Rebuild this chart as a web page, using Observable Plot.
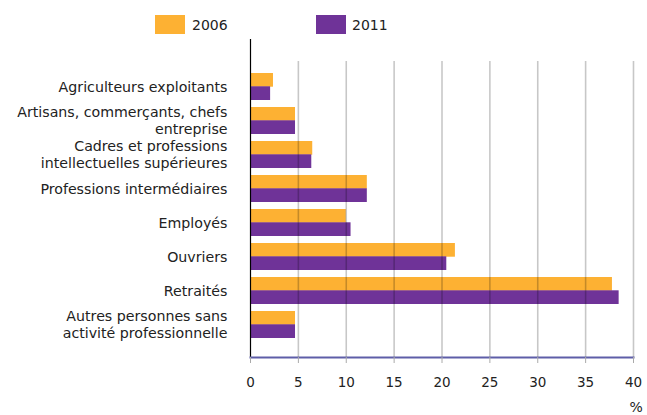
<!DOCTYPE html>
<html>
<head>
<meta charset="utf-8">
<script src="https://cdn.jsdelivr.net/npm/d3@7"></script>
<script src="https://cdn.jsdelivr.net/npm/@observablehq/plot@0.6"></script>
<style>
  body { margin: 0; background: #fff; font-family: "DejaVu Sans", Verdana, sans-serif; }
  #wrap { position: relative; width: 647px; height: 415px; overflow: hidden; }
  #legend { position: relative; height: 39px; width: 647px; font-size: 14px; color: #222; }
  .sw { position: absolute; top: 15px; width: 30px; height: 19px; }
  .lt { position: absolute; top: 16px; line-height: 18px; }
  svg { display: block; }
</style>
</head>
<body>
<div id="wrap">
  <div id="legend"></div>
  <div id="chart"></div>
</div>
<script>
const categories = [
  "Agriculteurs exploitants",
  "Artisans, commerçants, chefs\nentreprise",
  "Cadres et professions\nintellectuelles supérieures",
  "Professions intermédiaires",
  "Employés",
  "Ouvriers",
  "Retraités",
  "Autres personnes sans\nactivité professionnelle"
];
const years = ["2006", "2011"];
const values2006 = [2.4, 4.7, 6.5, 12.2, 10.0, 21.4, 37.8, 4.7];
const values2011 = [2.1, 4.7, 6.4, 12.2, 10.5, 20.5, 38.5, 4.7];
const xTicks = [0, 5, 10, 15, 20, 25, 30, 35, 40];
const colors = ["#FDB133", "#6F3398"];
const unitLabel = "%";

const rows2006 = categories.map((c, i) => ({category: c, value: values2006[i]}));
const rows2011 = categories.map((c, i) => ({category: c, value: values2011[i]}));

// legend
const legend = document.getElementById("legend");
const legendX = [[155, 192], [316, 352]];
years.forEach((y, i) => {
  const sw = document.createElement("div");
  sw.className = "sw";
  sw.style.left = legendX[i][0] + "px";
  sw.style.background = colors[i];
  legend.appendChild(sw);
  const t = document.createElement("div");
  t.className = "lt";
  t.style.left = legendX[i][1] + "px";
  t.textContent = y;
  legend.appendChild(t);
});

const half = 13.3;
const chart = Plot.plot({
  width: 647,
  height: 376,
  marginLeft: 250,
  marginRight: 14,
  marginTop: 0,
  marginBottom: 58,
  style: {fontFamily: "DejaVu Sans, Verdana, sans-serif", fontSize: "13px", color: "#222", background: "#fff"},
  x: {domain: [0, 40], ticks: xTicks},
  y: {domain: categories, range: [29.95, 302.75], paddingInner: 0.22, paddingOuter: 0.11},
  marks: [
    Plot.barX(rows2006, {x: "value", y: "category", fill: colors[0], insetBottom: half}),
    Plot.barX(rows2011, {x: "value", y: "category", fill: colors[1], insetTop: half}),
    Plot.ruleX(xTicks.filter(d => d > 0), {stroke: "#000", strokeOpacity: 0.22, strokeWidth: 1.6, insetTop: 22}),
    Plot.ruleX([0], {stroke: "#000", strokeWidth: 1.2}),
    Plot.frame({anchor: "bottom", stroke: "#5e5ea8", strokeWidth: 2}),
    Plot.axisX({ticks: xTicks, tickSize: 6, tickPadding: 14, stroke: "#aaa", fill: "#222", label: null, fontSize: 13.5}),
    Plot.axisY({tickSize: 0, tickPadding: 23, label: null, fill: "#222", fontSize: 14.2, lineHeight: 1.22, dy: -1}),
    Plot.text([unitLabel], {frameAnchor: "bottom-right", textAnchor: "start", dx: -4, dy: 54, fill: "#222", fontSize: 14})
  ]
});
document.getElementById("chart").appendChild(chart);
</script>
</body>
</html>
